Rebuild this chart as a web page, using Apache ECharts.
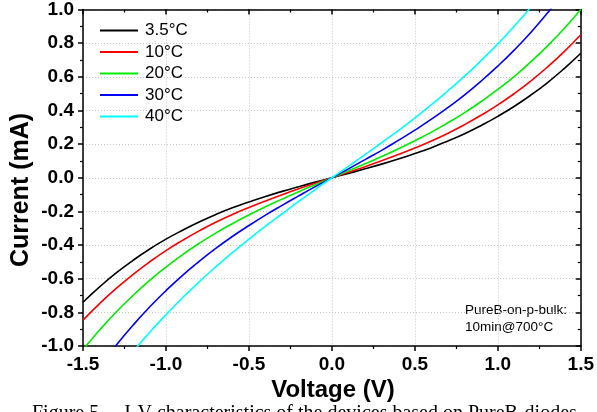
<!DOCTYPE html>
<html><head><meta charset="utf-8">
<script src="https://cdn.jsdelivr.net/npm/echarts@6/dist/echarts.min.js"></script>
<style>html,body{margin:0;padding:0;background:#fff}#c{width:597px;height:412px}</style>
</head><body><div id="c"></div>
<script>
const voltage = [-1.5,-1.4,-1.3,-1.2,-1.1,-1.0,-0.9,-0.8,-0.7,-0.6,-0.5,-0.4,-0.3,-0.2,-0.1,0,0.1,0.2,0.3,0.4,0.5,0.6,0.7,0.8,0.9,1.0,1.1,1.2,1.3,1.4,1.5];
const seriesNames = ['3.5°C','10°C','20°C','30°C','40°C'];
const seriesColors = ['#000000','#ff0000','#00ee00','#0000ff','#00ffff'];
const i35 = [-0.740,-0.649,-0.566,-0.492,-0.425,-0.365,-0.312,-0.263,-0.219,-0.179,-0.144,-0.111,-0.081,-0.053,-0.026,0,0.026,0.053,0.081,0.111,0.144,0.179,0.219,0.262,0.311,0.365,0.425,0.492,0.566,0.649,0.740];
const i10 = [-0.846,-0.748,-0.658,-0.576,-0.501,-0.433,-0.372,-0.316,-0.265,-0.219,-0.177,-0.138,-0.101,-0.066,-0.033,0,0.033,0.066,0.101,0.138,0.177,0.219,0.265,0.316,0.372,0.433,0.501,0.576,0.659,0.750,0.850];
const i20 = [-1.022,-0.905,-0.798,-0.701,-0.612,-0.531,-0.457,-0.390,-0.329,-0.273,-0.221,-0.172,-0.127,-0.083,-0.041,0,0.041,0.083,0.126,0.172,0.220,0.271,0.327,0.387,0.453,0.525,0.603,0.690,0.784,0.887,1.000];
const i30 = [-1.262,-1.122,-0.995,-0.878,-0.770,-0.671,-0.580,-0.497,-0.420,-0.349,-0.284,-0.222,-0.164,-0.108,-0.053,0,0.053,0.108,0.163,0.222,0.283,0.348,0.418,0.493,0.575,0.664,0.760,0.865,0.980,1.104,1.240];
const i40 = [-1.430,-1.289,-1.158,-1.035,-0.921,-0.814,-0.713,-0.619,-0.530,-0.445,-0.365,-0.288,-0.214,-0.141,-0.070,0,0.068,0.137,0.208,0.280,0.356,0.434,0.517,0.604,0.697,0.796,0.902,1.015,1.137,1.267,1.407];
const xTicks = [-1.5,-1.0,-0.5,0.0,0.5,1.0,1.5];
const yTicks = [-1.0,-0.8,-0.6,-0.4,-0.2,0.0,0.2,0.4,0.6,0.8,1.0];
const noteLines = ['PureB-on-p-bulk:','10min@700°C'];
const xTitle = 'Voltage (V)';
const yTitle = 'Current (mA)';
const caption = 'Figure 5.    I-V characteristics of the devices based on PureB-diodes';

const allI = [i35,i10,i20,i30,i40];
const chart = echarts.init(document.getElementById('c'));
const font = 'Liberation Sans, Arial, sans-serif';
const axisCommon = {
  type:'value',
  axisLine:{show:true,onZero:false,lineStyle:{color:'#000',width:1.5}},
  splitLine:{show:false},
};
chart.setOption({
  animation:false,
  backgroundColor:'#fff',
  grid:{left:83,right:15,top:8,bottom:66,containLabel:false},
  xAxis:[
    Object.assign({},axisCommon,{min:-1.5,max:1.5,interval:0.5,position:'bottom',
      axisTick:{show:true,inside:false,length:5,lineStyle:{color:'#000',width:1.5}},
      minorTick:{show:true,splitNumber:2,length:3,lineStyle:{color:'#000',width:1.2}},
      splitLine:{show:true,lineStyle:{color:'#c8c8c8',type:[1,2],width:1}},
      axisLabel:{show:true,margin:9,color:'#000',fontFamily:font,fontWeight:'bold',fontSize:19,
        formatter:v=>{const t=xTicks.find(k=>Math.abs(k-v)<1e-9);return t===undefined?'':t.toFixed(1);}}
    }),
    Object.assign({},axisCommon,{min:-1.5,max:1.5,interval:0.5,position:'top',
      axisTick:{show:true,inside:true,length:5,lineStyle:{color:'#000',width:1.5}},
      minorTick:{show:true,splitNumber:2,length:3,lineStyle:{color:'#000',width:1.2}},
      axisLabel:{show:false}})
  ],
  yAxis:[
    Object.assign({},axisCommon,{min:-1,max:1,interval:0.2,position:'left',
      axisTick:{show:true,inside:false,length:5,lineStyle:{color:'#000',width:1.5}},
      minorTick:{show:true,splitNumber:2,length:3,lineStyle:{color:'#000',width:1.2}},
      splitLine:{show:true,lineStyle:{color:'#c8c8c8',type:[1,2],width:1}},
      axisLabel:{show:true,margin:9,color:'#000',fontFamily:font,fontWeight:'bold',fontSize:19,
        formatter:v=>{const t=yTicks.find(k=>Math.abs(k-v)<1e-9);return t===undefined?'':t.toFixed(1);}}
    }),
    Object.assign({},axisCommon,{min:-1,max:1,interval:0.2,position:'right',
      axisTick:{show:true,inside:true,length:5,lineStyle:{color:'#000',width:1.5}},
      minorTick:{show:true,splitNumber:2,length:3,lineStyle:{color:'#000',width:1.2}},
      axisLabel:{show:false}})
  ],
  legend:{
    orient:'vertical',left:100,top:22,padding:0,itemWidth:38,itemHeight:14,itemGap:4.5,
    icon:'path://M0,6L38,6L38,8L0,8Z',
    textStyle:{fontFamily:font,fontSize:17,color:'#000',padding:[0,0,0,2]},
    data:seriesNames
  },
  series: seriesNames.map((n,k)=>({
    name:n,type:'line',xAxisIndex:0,yAxisIndex:0,symbol:'none',smooth:true,clip:true,
    lineStyle:{color:seriesColors[k],width:1.6},itemStyle:{color:seriesColors[k]},
    data: voltage.map((v,j)=>[v,allI[k][j]])
  })),
  graphic:[
    {type:'text',left:465,top:302,style:{text:noteLines.join('\n'),fontFamily:font,fontSize:13.5,lineHeight:17,fill:'#000'}},
    {type:'text',x:333,y:390,style:{text:xTitle,fontFamily:font,fontWeight:'bold',fontSize:24,fill:'#000',align:'center',verticalAlign:'middle'}},
    {type:'text',x:21,y:190,rotation:Math.PI/2,style:{text:yTitle,fontFamily:font,fontWeight:'bold',fontSize:25,fill:'#000',align:'center',verticalAlign:'middle'}},
    {type:'text',x:32,y:404,style:{text:caption,fontFamily:'Liberation Serif, Times New Roman, serif',fontSize:20,fill:'#000',align:'left',verticalAlign:'top'}}
  ]
});
</script></body></html>
